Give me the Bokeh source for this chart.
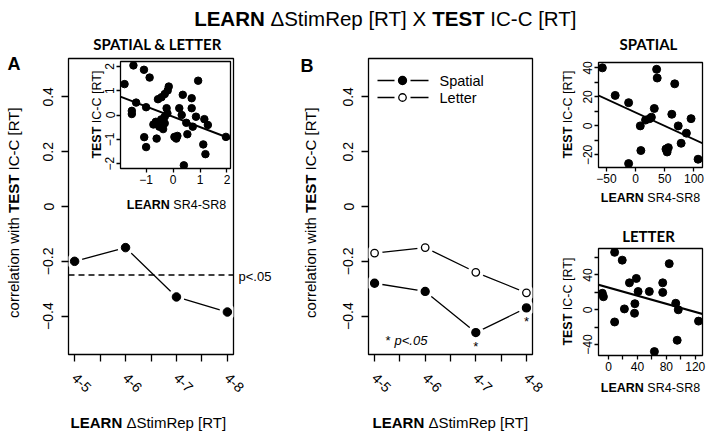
import math
from bokeh.plotting import figure
from bokeh.layouts import column
from bokeh.models import Range1d, FixedTicker, Span, Slope, ColumnDataSource
from bokeh.core.properties import value
from bokeh.embed import file_html
from bokeh.resources import INLINE

# ---------------- data ----------------
intervals = ["4-5", "4-6", "4-7", "4-8"]
interval_pos = [1, 2, 3, 4]
corr_combined = [-0.20, -0.15, -0.33, -0.385]
corr_spatial = [-0.28, -0.31, -0.46, -0.37]
corr_letter = [-0.17, -0.15, -0.24, -0.315]
p_crit = -0.25
spatial_sig = [False, False, True, True]

comb_learn = [-1.80, -1.47, -1.08, -0.87, -1.37, -1.53, -1.53, -1.00, -1.07, -1.00, -0.61,
              -0.56, -0.43, -0.31, -0.20, -0.16, -0.73, -0.64, -0.44, -0.31, -0.24, -0.21,
              -0.31, -0.37, 0.05, 0.16, 0.12, 0.23, 0.32, 0.36, 0.49, 0.53, 0.69, 0.69,
              0.73, 0.93, 0.85, 1.16, 1.29, 1.12, 1.20, 0.40, 1.96, -0.51]
comb_test = [1.27, 2.04, 1.86, 1.54, 0.51, 0.17, 0.04, 0.32, -0.91, -1.32, -0.97,
             0.65, 0.73, 0.86, 1.01, 1.17, -0.39, -0.28, -0.18, -0.07, 0.28, 0.07,
             -0.34, -0.58, -0.90, -0.86, -0.97, 0.28, 0.00, 0.83, -0.32, -0.79, 0.69, 0.28,
             -0.48, 1.41, -0.07, -0.17, -0.41, -1.21, -1.61, -2.07, -0.90, -0.48]
comb_fit_intercept = -0.074
comb_fit_slope = -0.423

spat_learn = [-57, -35, -12, -12, 8, 9, 17, 24, 27, 32, 36, 37, 52, 54, 56, 62, 67, 73, 78, 87, 95, 107]
spat_test = [40, 21, 16, -26, 0, -17, 4, 5, 6, 12, 39, 33, -16, -18, -15, 8, 29, 0, -12, -5, 5, -23]
spat_fit_intercept = 9.2
spat_fit_slope = -0.185

lett_learn = [-8.5, -7, 8.5, 19, 8.5, 22, 29, 38.5, 36.5, 36, 41, 56.5, 63.5, 75, 75, 84, 93, 96.5, 95, 124.5]
lett_test = [19, 15, 66, 57, -14, 1, 31, 36, 7, -4, 21, 21, -48, 31, 20, 53, 7.5, 0, -35, -13]
lett_fit_intercept = 25.5
lett_fit_slope = -0.233

# ---------------- layout helpers ----------------
W, H = 711, 436
FONT = "Liberation Sans"
TFONT = "Lato"

REG_W = {' ': 278, 'Δ': 668, 'S': 667, 't': 278, 'i': 222, 'm': 833, 'R': 722, 'e': 556,
         'p': 556, '[': 278, ']': 278, 'T': 611, 'X': 667, 'I': 278, 'C': 722, '-': 333,
         'c': 500, 'o': 556, 'r': 333, 'l': 222, 'a': 556, 'n': 556, 'w': 722, 'h': 556,
         '4': 556, '8': 556, 'E': 667, 'A': 667, 'L': 556, 'N': 722}
BOLD_W = {'L': 611, 'E': 667, 'A': 722, 'R': 722, 'N': 722, 'T': 611, 'S': 667, ' ': 278}


def make_fig(frame, xr, yr):
    left, top, right, bottom = frame
    p = figure(width=W, height=H, x_range=Range1d(*xr), y_range=Range1d(*yr),
               output_backend="svg", toolbar_location=None, title=None,
               sizing_mode="fixed",
               min_border_left=left, min_border_top=top,
               min_border_right=W - right, min_border_bottom=H - bottom)
    p.frame_align = False
    p.background_fill_color = None
    p.border_fill_color = None
    p.outline_line_color = "black"
    p.outline_line_width = 1.3
    p.xgrid.visible = False
    p.ygrid.visible = False
    return p


def style_axes(p, tick_len, label_size, standoff_x, standoff_y):
    for ax in (p.xaxis[0], p.yaxis[0]):
        ax.axis_line_color = None
        ax.major_tick_line_color = "black"
        ax.major_tick_line_width = 1.3
        ax.major_tick_out = tick_len
        ax.major_tick_in = 0
        ax.minor_tick_line_color = "black"
        ax.minor_tick_line_width = 1.3
        ax.minor_tick_out = tick_len
        ax.minor_tick_in = 0
        ax.major_label_text_font = FONT
        ax.major_label_text_font_size = f"{label_size}px"
        ax.major_label_text_color = "black"
    p.xaxis[0].major_label_standoff = standoff_x
    p.yaxis[0].major_label_standoff = standoff_y
    p.yaxis[0].major_label_orientation = "vertical"


def main_panel(frame):
    p = make_fig(frame, (0.88, 4.12), (-0.54, 0.54))
    style_axes(p, 7, 14, 14, 8)
    p.xaxis[0].ticker = FixedTicker(ticks=interval_pos, minor_ticks=[1.5, 2.5, 3.5])
    p.xaxis[0].major_label_overrides = dict(zip(interval_pos, intervals))
    p.xaxis[0].major_label_orientation = -math.pi / 4
    p.yaxis[0].ticker = FixedTicker(ticks=[-0.4, -0.2, 0.0, 0.2, 0.4])
    return p


# ---------------- panel A (main) ----------------
pa = main_panel((68, 58, 233, 354))
src_a = ColumnDataSource(dict(x=interval_pos, y=corr_combined))
pa.line('x', 'y', source=src_a, line_color='black', line_width=1.3)
pa.scatter('x', 'y', source=src_a, size=16, fill_color='white', line_color=None)
pa.scatter('x', 'y', source=src_a, size=8.5, fill_color='black', line_color='black')
pa.add_layout(Span(location=p_crit, dimension='width', line_dash='6 4',
                   line_color='black', line_width=1.3))

# ---------------- panel A inset ----------------
pi = make_fig((120, 61, 230, 168), (-1.95, 2.13), (-2.2, 2.2))
style_axes(pi, 4, 12, 2, 2)
pi.xaxis[0].ticker = FixedTicker(ticks=[-1, 0, 1, 2])
pi.yaxis[0].ticker = FixedTicker(ticks=[-2, -1, 0, 1, 2])
pi.scatter(comb_learn, comb_test, size=7.5, fill_color='black', line_color='black')
pi.add_layout(Slope(gradient=comb_fit_slope, y_intercept=comb_fit_intercept,
                    line_color='black', line_width=2))

# ---------------- panel B ----------------
pb = main_panel((368, 58, 532, 354))
src_s = ColumnDataSource(dict(x=interval_pos, y=corr_spatial))
src_l = ColumnDataSource(dict(x=interval_pos, y=corr_letter))
for src, fill in ((src_s, 'black'), (src_l, 'white')):
    pb.line('x', 'y', source=src, line_color='black', line_width=1.3)
    pb.scatter('x', 'y', source=src, size=16, fill_color='white', line_color=None)
    pb.scatter('x', 'y', source=src, size=8 if fill == 'black' else 7.5,
               fill_color=fill, line_color='black', line_width=1.3)
sig_x = [x for x, s in zip(interval_pos, spatial_sig) if s]
sig_y = [y - 0.05 for y, s in zip(corr_spatial, spatial_sig) if s]
pb.text(sig_x, sig_y, text=["*"] * len(sig_x), text_align="center", text_baseline="middle",
        text_font=value(FONT), text_font_size="13px", text_color="black")

# ---------------- spatial scatter ----------------
ps = make_fig((598, 62, 702, 167), (-63.6, 114.6), (-28.7, 43.7))
style_axes(ps, 4, 12, 2, 2)
ps.xaxis[0].ticker = FixedTicker(ticks=[-50, 0, 50, 100])
ps.yaxis[0].ticker = FixedTicker(ticks=[-20, 0, 20, 40], minor_ticks=[-10, 10, 30])
ps.scatter(spat_learn, spat_test, size=8, fill_color='black', line_color='black')
ps.add_layout(Slope(gradient=spat_fit_slope, y_intercept=spat_fit_intercept,
                    line_color='black', line_width=2))

# ---------------- letter scatter ----------------
pl = make_fig((598, 248, 702, 355), (-13.8, 130), (-52.5, 70.4))
style_axes(pl, 4, 12, 2, 2)
pl.xaxis[0].ticker = FixedTicker(ticks=[0, 40, 80, 120], minor_ticks=[20, 60, 100])
pl.yaxis[0].ticker = FixedTicker(ticks=[-40, 0, 40], minor_ticks=[-20, 20, 60])
pl.scatter(lett_learn, lett_test, size=8, fill_color='black', line_color='black')
pl.add_layout(Slope(gradient=lett_fit_slope, y_intercept=lett_fit_intercept,
                    line_color='black', line_width=2))

# ---------------- text canvas ----------------
pc = figure(width=W, height=H, x_range=Range1d(0, W), y_range=Range1d(0, H),
            output_backend="svg", toolbar_location=None, title=None, sizing_mode="fixed",
            x_axis_location=None, y_axis_location=None,
            min_border_left=0, min_border_right=0, min_border_top=0, min_border_bottom=0)
pc.frame_align = False
pc.background_fill_color = None
pc.border_fill_color = None
pc.outline_line_color = None
pc.xgrid.visible = False
pc.ygrid.visible = False


def tw(s, bold, size):
    tab = BOLD_W if bold else REG_W
    return sum(tab.get(c, 556) for c in s) * size / 1000.0


def rich(cx, cy, pieces, size, vertical=False, font=FONT):
    ws = [tw(s, b, size) for s, b in pieces]
    off = -sum(ws) / 2.0
    for (s, b), w in zip(pieces, ws):
        lead = tw(s[:len(s) - len(s.lstrip(' '))], b, size)
        o = off + lead
        if vertical:
            x, y, ang = cx, H - cy + o, math.pi / 2
        else:
            x, y, ang = cx + o, H - cy, 0.0
        pc.text(x=[x], y=[y], text=[s.strip(' ')], angle=ang, text_align="left",
                text_baseline="middle", text_font=value(font), text_font_size=f"{size}px",
                text_font_style="bold" if b else "normal", text_color="black")
        off += w


def plain(x, y, s, size, font=FONT, style="normal", align="left"):
    pc.text(x=[x], y=[H - y], text=[s], text_align=align, text_baseline="middle",
            text_font=value(font), text_font_size=f"{size}px", text_font_style=style,
            text_color="black")


# main title
rich(385, 18, [("LEARN", True), (" ΔStimRep [RT] X ", False), ("TEST", True), (" IC-C [RT]", False)], 20.5)
# panel letters
plain(7, 63, "A", 18, style="bold")
plain(300, 65, "B", 18, style="bold")
# panel titles
plain(157, 43, "SPATIAL & LETTER", 15, font=TFONT, style="bold", align="center")
plain(648, 43, "SPATIAL", 15, font=TFONT, style="bold", align="center")
plain(648, 235, "LETTER", 15, font=TFONT, style="bold", align="center")
# main axis titles
xt = [("LEARN", True), (" ΔStimRep [RT]", False)]
yt = [("correlation with ", False), ("TEST", True), (" IC-C [RT]", False)]
rich(148, 422, xt, 15)
rich(450, 422, xt, 15)
rich(13, 212, yt, 15, vertical=True)
rich(310, 212, yt, 15, vertical=True)
# small axis titles
sx = [("LEARN", True), (" SR4-SR8", False)]
sy = [("TEST", True), (" IC-C [RT]", False)]
rich(176, 204, sx, 12.5)
rich(96, 114, sy, 12.5, vertical=True)
rich(650, 197, sx, 12.5)
rich(567, 114, sy, 12.5, vertical=True)
rich(650, 387, sx, 12.5)
rich(567, 301, sy, 12.5, vertical=True)
# significance notes
plain(238, 276, "p<.05", 13)
plain(385, 340, "*", 13)
plain(394, 340, "p<.05", 13, style="italic")
# legend for panel B
leg_rows = [("Spatial", "black", 80), ("Letter", "white", 97)]
for label, fill, yy in leg_rows:
    pc.segment(x0=[377, 410], y0=[H - yy, H - yy], x1=[394, 428], y1=[H - yy, H - yy],
               line_color="black", line_width=1.3)
    pc.scatter([402], [H - yy], size=8 if fill == "black" else 7.5, fill_color=fill,
               line_color="black", line_width=1.3)
    plain(439, yy, label, 14.5)

figs = [pa, pi, pb, ps, pl, pc]
for f in figs[1:]:
    f.margin = (-H, 0, 0, 0)
figs[0].margin = (0, 0, 0, 0)
layout = column(*figs, sizing_mode="fixed", spacing=0)

open("out.html", "w").write(file_html(layout, INLINE))
